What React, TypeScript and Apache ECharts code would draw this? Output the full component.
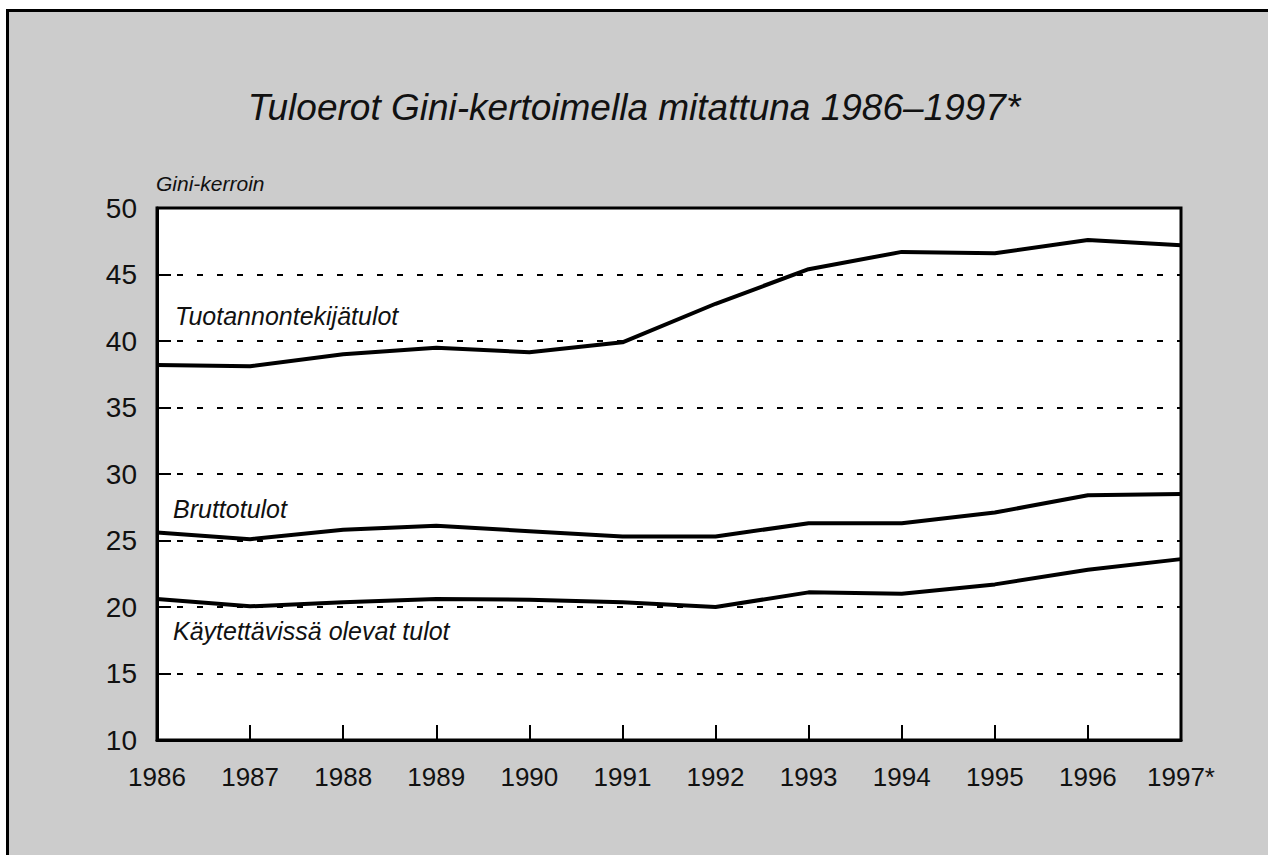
import React, { useEffect, useRef } from "react";
import * as echarts from "echarts";

const years = ["1986", "1987", "1988", "1989", "1990", "1991", "1992", "1993", "1994", "1995", "1996", "1997*"];
const tuotannontekijatulot = [38.2, 38.1, 39.0, 39.5, 39.15, 39.9, 42.8, 45.4, 46.7, 46.6, 47.6, 47.2];
const bruttotulot = [25.6, 25.1, 25.8, 26.1, 25.7, 25.3, 25.3, 26.3, 26.3, 27.1, 28.4, 28.5];
const kaytettavissa = [20.6, 20.05, 20.35, 20.6, 20.55, 20.35, 20.0, 21.1, 21.0, 21.7, 22.8, 23.6];
const yTicks = { min: 10, max: 50, interval: 5 };

const titleText = "Tuloerot Gini-kertoimella mitattuna 1986–1997*";
const yName = "Gini-kerroin";
const seriesNames = ["Tuotannontekijätulot", "Bruttotulot", "Käytettävissä olevat tulot"];

const FONT = "'Liberation Sans', Arial, Helvetica, sans-serif";

export default function App() {
  const ref = useRef<HTMLDivElement>(null);
  useEffect(() => {
    document.body.style.margin = "0";
    const chart = echarts.init(ref.current!, null, { renderer: "svg" });
    const lineStyle = { color: "#000", width: 4 };
    chart.setOption({
      animation: false,
      title: {
        text: titleText,
        left: "center",
        top: 84,
        textStyle: { fontFamily: FONT, fontSize: 37, fontStyle: "italic", fontWeight: "normal", color: "#111" },
      },
      grid: {
        left: 157,
        top: 208,
        right: 87,
        bottom: 115,
        show: true,
        backgroundColor: "#fff",
        borderColor: "#000",
        borderWidth: 3,
      },
      xAxis: {
        type: "category",
        data: years,
        boundaryGap: false,
        axisLine: { show: true, lineStyle: { color: "#000", width: 3 } },
        axisTick: { show: true, inside: true, length: 15, interval: 0, lineStyle: { color: "#000", width: 2 } },
        axisLabel: { fontFamily: FONT, fontSize: 26, color: "#111", margin: 24, interval: 0 },
        splitLine: { show: false },
      },
      yAxis: {
        type: "value",
        min: yTicks.min,
        max: yTicks.max,
        interval: yTicks.interval,
        axisLine: { show: true, lineStyle: { color: "#000", width: 3 } },
        axisTick: { show: true, inside: true, length: 14, lineStyle: { color: "#000", width: 2 } },
        axisLabel: { fontFamily: FONT, fontSize: 28, color: "#111", margin: 20 },
        splitLine: { show: true, lineStyle: { color: "#000", width: 2, type: [6, 14] } },
      },
      graphic: [
        {
          type: "text",
          left: 156,
          top: 173,
          style: { text: yName, font: `italic 21px ${FONT}`, fill: "#111" },
        },
        {
          type: "text",
          left: 175,
          top: 303,
          style: { text: seriesNames[0], font: `italic 25px ${FONT}`, fill: "#111" },
        },
        {
          type: "text",
          left: 173,
          top: 496,
          style: { text: seriesNames[1], font: `italic 25px ${FONT}`, fill: "#111" },
        },
        {
          type: "text",
          left: 173,
          top: 618,
          style: { text: seriesNames[2], font: `italic 25px ${FONT}`, fill: "#111" },
        },
      ],
      series: [
        { name: seriesNames[0], type: "line", data: tuotannontekijatulot, symbol: "none", lineStyle, z: 5 },
        { name: seriesNames[1], type: "line", data: bruttotulot, symbol: "none", lineStyle, z: 5 },
        { name: seriesNames[2], type: "line", data: kaytettavissa, symbol: "none", lineStyle, z: 5 },
      ],
    });
    return () => chart.dispose();
  }, []);
  return (
    <div style={{ position: "relative", width: 1268, height: 855, overflow: "hidden", background: "#fff" }}>
      <div
        style={{
          position: "absolute",
          left: 6,
          top: 9,
          width: 1400,
          height: 1000,
          background: "#cccccc",
          borderTop: "3px solid #000",
          borderLeft: "3px solid #000",
        }}
      />
      <div ref={ref} style={{ position: "absolute", left: 0, top: 0, width: 1268, height: 855 }} />
    </div>
  );
}
